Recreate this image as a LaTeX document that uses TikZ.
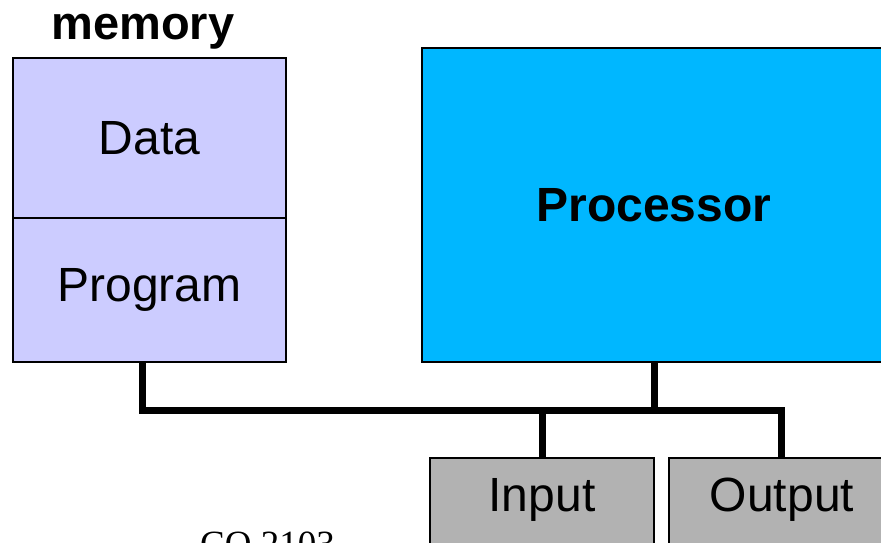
\documentclass[tikz,border=0pt]{standalone}
\usepackage{fontspec}
\setmainfont{Liberation Sans}
\newfontfamily\serifface{Liberation Serif}
\begin{document}
\begin{tikzpicture}[x=1pt,y=-1pt,
  box/.style={draw=black,line width=2pt,inner sep=0pt},
  bus/.style={line width=7pt,line cap=butt,line join=miter},
  label/.style={font=\fontsize{48}{52}\selectfont,inner sep=0pt}]
\definecolor{memfill}{RGB}{204,204,255}
\definecolor{cpufill}{RGB}{0,183,255}
\definecolor{iofill}{RGB}{178,178,178}
\useasboundingbox (0,0) rectangle (881,543);
\clip (0,0) rectangle (881,543);
% memory block
\node[box,fill=memfill,minimum width=273pt,minimum height=160pt] (data) at (149.5,138) {};
\node[box,fill=memfill,minimum width=273pt,minimum height=144pt] (prog) at (149.5,290) {};
\node[label] at (data.center) {Data};
\node[label] at (prog.center) {Program};
\node[anchor=base,inner sep=0pt,font=\fontsize{47}{52}\selectfont\bfseries] (memlbl) at (143,40) {memory};
% processor
\node[box,fill=cpufill,minimum width=480pt,minimum height=314pt] (cpu) at (662,205) {};
\node[inner sep=0pt,font=\fontsize{48}{52}\selectfont\bfseries] at (654,205) {Processor};
% I/O devices
\node[box,fill=iofill,minimum width=224pt,minimum height=120pt] (in) at (542,518) {};
\node[box,fill=iofill,minimum width=230pt,minimum height=120pt] (out) at (784,518) {};
\node[label] at (542,500) {Input};
\node[label] at (782,500) {Output};
% bus
\coordinate (busL) at (142,410);
\coordinate (busR) at (781,410);
\draw[bus] (142,363) -- (busL) -- (busR) -- (781,458);
\draw[bus] (654,363) -- (654,410);
\draw[bus] (542,410) -- (542,458);
% footer
\node[anchor=base west,inner sep=0pt,font=\serifface\fontsize{37}{40}\selectfont] at (200,556) {CO 2103};
\end{tikzpicture}
\end{document}
